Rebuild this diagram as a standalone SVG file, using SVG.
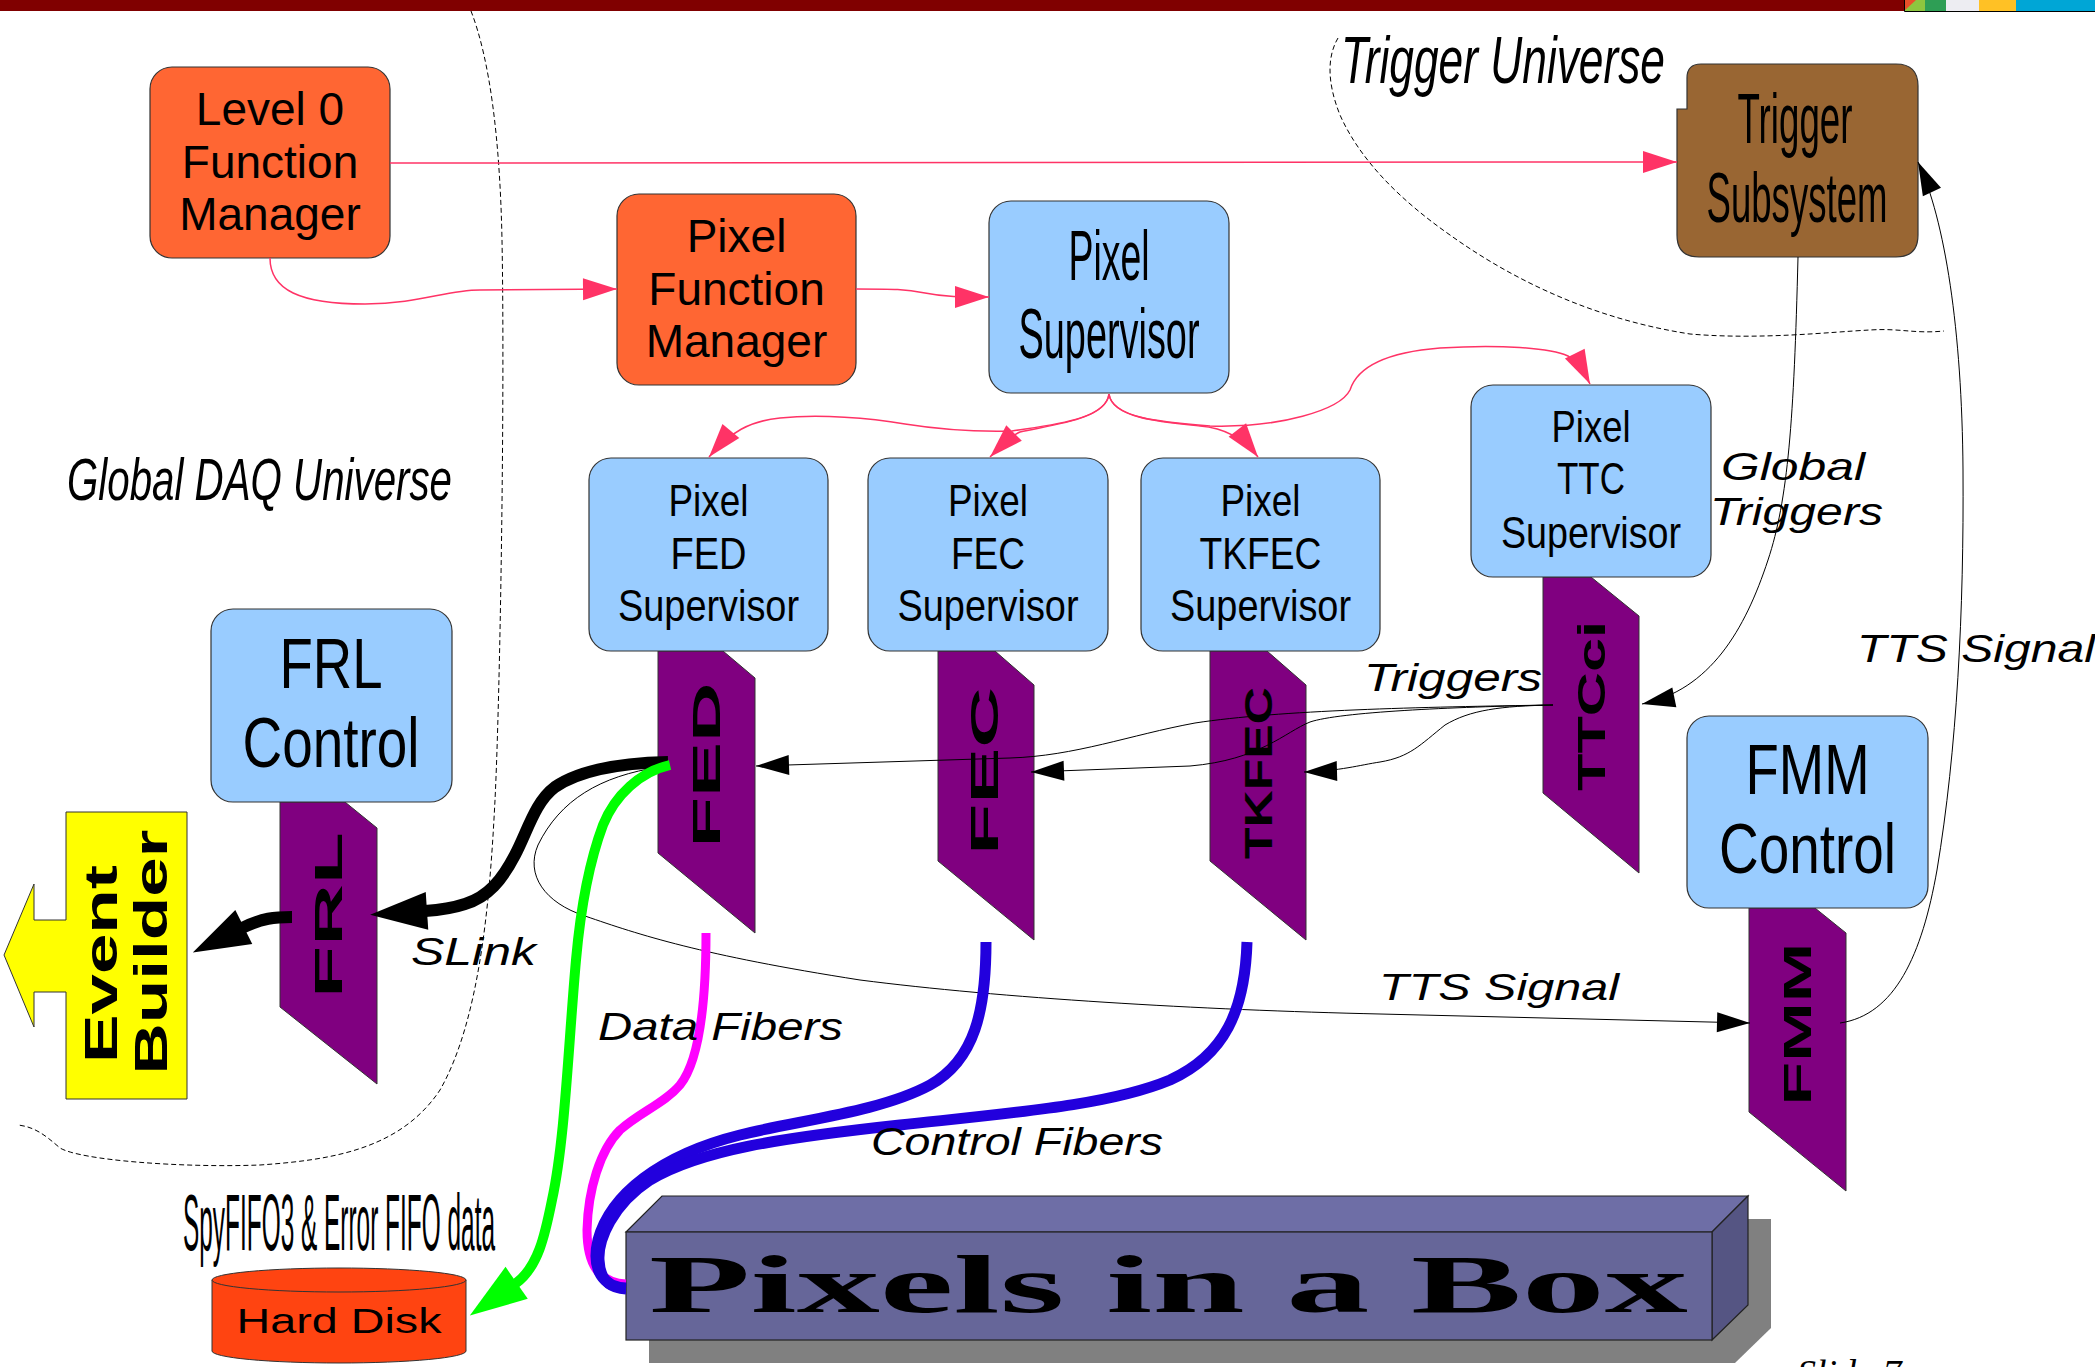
<svg xmlns="http://www.w3.org/2000/svg" width="2095" height="1367" viewBox="0 0 2095 1367">
  <defs>
    <style>
      text { font-family: "Liberation Sans", Arial, sans-serif; fill: #000; }
      text.serif { font-family: "Liberation Serif", "Times New Roman", serif; }
      .t46 { font-size: 46px; text-anchor: middle; }
      .t45 { font-size: 45px; text-anchor: middle; }
      .t70 { font-size: 70px; text-anchor: middle; }
      .card-t { font-size: 38px; font-weight: bold; text-anchor: middle; }
      .lbl { font-style: italic; }
      .orange { fill: #FF6633; stroke: #333; stroke-width: 1.2; }
      .blue { fill: #99CCFF; stroke: #333; stroke-width: 1.2; }
      .card { fill: #800080; stroke: #333; stroke-width: 1; }
      .dash { fill: none; stroke: #000; stroke-width: 1; stroke-dasharray: 5 3; }
      .pink { fill: none; stroke: #FF3366; stroke-width: 1.5; marker-end: url(#arrow-pink); }
      .thin { fill: none; stroke: #000; stroke-width: 1; marker-end: url(#arrow-black); }
      .fiber { fill: none; stroke-linecap: butt; }
    </style>
    <marker id="arrow-pink" markerUnits="userSpaceOnUse" markerWidth="34" markerHeight="22" refX="34" refY="11" orient="auto" overflow="visible">
      <path d="M0,0 L34,11 L0,22 Z" fill="#FF3366"/>
    </marker>
    <marker id="arrow-black" markerUnits="userSpaceOnUse" markerWidth="33" markerHeight="20" refX="33" refY="10" orient="auto" overflow="visible">
      <path d="M0,0 L33,10 L0,20 Z" fill="#000"/>
    </marker>
    <marker id="arrow-big-black" markerUnits="userSpaceOnUse" markerWidth="57" markerHeight="38" refX="2" refY="19" orient="auto" overflow="visible">
      <path d="M0,0 L57,19 L0,38 Z" fill="#000"/>
    </marker>
    <marker id="arrow-big-green" markerUnits="userSpaceOnUse" markerWidth="57" markerHeight="39" refX="2" refY="19.5" orient="auto" overflow="visible">
      <path d="M0,0 L57,19.5 L0,39 Z" fill="#00FF00"/>
    </marker>
  </defs>

  <rect width="2095" height="1367" fill="#FFFFFF"/>

  <!-- header strip -->
  <g id="header">
    <rect x="0" y="0" width="2095" height="11" fill="#800000"/>
    <rect x="1904" y="0" width="21" height="11" fill="#8DC63F"/>
    <polygon points="1904,0 1916,0 1904,11" fill="#E8502A"/>
    <rect x="1925" y="0" width="21" height="11" fill="#2E9E55"/>
    <rect x="1946" y="0" width="33" height="11" fill="#EDEDF2"/>
    <rect x="1979" y="0" width="37" height="11" fill="#FFC125"/>
    <rect x="2016" y="0" width="79" height="11" fill="#00A6D6"/>
    <path d="M1904.5,0 L1904.5,11.5 L2095,11.5" fill="none" stroke="#000" stroke-width="1"/>
  </g>

  <!-- domain boundaries -->
  <g id="boundaries">
    <path class="dash" d="M471,11 C490,60 500,140 502,240 C505,400 500,700 495,800 C490,900 480,1020 440,1090 C400,1150 330,1160 260,1165 C180,1168 80,1160 60,1148 C45,1135 35,1127 18,1125"/>
    <path class="dash" d="M1338,38 C1328,55 1326,80 1340,115 C1360,160 1400,200 1450,235 C1520,285 1600,320 1690,334 C1760,340 1830,332 1870,330 C1900,328 1915,334 1944,331"/>
    <text class="lbl" x="1341" y="83" font-size="66" textLength="324" lengthAdjust="spacingAndGlyphs">Trigger Universe</text>
    <text class="lbl" x="67" y="500" font-size="60" textLength="385" lengthAdjust="spacingAndGlyphs">Global DAQ Universe</text>
  </g>

  <!-- hardware cards -->
  <g id="card-fed">
    <polygon class="card" points="658,651 723,651 755,678 755,933 658,853"/>
    <text class="card-t" transform="translate(720,765) rotate(-90)" textLength="165" lengthAdjust="spacingAndGlyphs">FED</text>
  </g>
  <g id="card-fec">
    <polygon class="card" points="938,651 995,651 1034,685 1034,940 938,861"/>
    <text class="card-t" transform="translate(998,771) rotate(-90)" textLength="168" lengthAdjust="spacingAndGlyphs">FEC</text>
  </g>
  <g id="card-tkfec">
    <polygon class="card" points="1210,651 1267,651 1306,685 1306,940 1210,861"/>
    <text class="card-t" transform="translate(1272,773) rotate(-90)" textLength="172" lengthAdjust="spacingAndGlyphs">TKFEC</text>
  </g>
  <g id="card-ttcci">
    <polygon class="card" points="1543,577 1591,577 1639,616 1639,873 1543,793"/>
    <text class="card-t" transform="translate(1605,706) rotate(-90)" textLength="170" lengthAdjust="spacingAndGlyphs">TTCci</text>
  </g>
  <g id="card-frl">
    <polygon class="card" points="280,802 345,802 377,828 377,1084 280,1007"/>
    <text class="card-t" transform="translate(342,915) rotate(-90)" textLength="166" lengthAdjust="spacingAndGlyphs">FRL</text>
  </g>
  <g id="card-fmm">
    <polygon class="card" points="1749,908 1815,908 1846,933 1846,1191 1749,1112"/>
    <text class="card-t" transform="translate(1811,1024) rotate(-90)" textLength="163" lengthAdjust="spacingAndGlyphs">FMM</text>
  </g>

  <!-- software nodes -->
  <g id="level0-function-manager">
    <rect class="orange" x="150" y="67" width="240" height="191" rx="22"/>
    <text class="t46" x="270" y="125">Level 0</text>
    <text class="t46" x="270" y="178">Function</text>
    <text class="t46" x="270" y="230">Manager</text>
  </g>
  <g id="pixel-function-manager">
    <rect class="orange" x="617" y="194" width="239" height="191" rx="22"/>
    <text class="t46" x="736.5" y="252">Pixel</text>
    <text class="t46" x="736.5" y="305">Function</text>
    <text class="t46" x="736.5" y="357">Manager</text>
  </g>
  <g id="pixel-supervisor">
    <rect class="blue" x="989" y="201" width="240" height="192" rx="22"/>
    <text class="t70" x="1109" y="280" textLength="81" lengthAdjust="spacingAndGlyphs">Pixel</text>
    <text class="t70" x="1109" y="358" textLength="181" lengthAdjust="spacingAndGlyphs">Supervisor</text>
  </g>
  <g id="trigger-subsystem">
    <path d="M1701,64 L1896,64 Q1918,64 1918,86 L1918,235 Q1918,257 1896,257 L1699,257 Q1677,257 1677,235 L1677,109 L1687,109 L1687,78 Q1687,64 1701,64 Z" fill="#996633" stroke="#333" stroke-width="1.2"/>
    <text class="t70" x="1795" y="143" textLength="115" lengthAdjust="spacingAndGlyphs">Trigger</text>
    <text class="t70" x="1797" y="222" textLength="181" lengthAdjust="spacingAndGlyphs">Subsystem</text>
  </g>
  <g id="pixel-fed-supervisor">
    <rect class="blue" x="589" y="458" width="239" height="193" rx="22"/>
    <text class="t45" x="708.5" y="516" textLength="80" lengthAdjust="spacingAndGlyphs">Pixel</text>
    <text class="t45" x="708.5" y="569" textLength="76" lengthAdjust="spacingAndGlyphs">FED</text>
    <text class="t45" x="708.5" y="621" textLength="181" lengthAdjust="spacingAndGlyphs">Supervisor</text>
  </g>
  <g id="pixel-fec-supervisor">
    <rect class="blue" x="868" y="458" width="240" height="193" rx="22"/>
    <text class="t45" x="988" y="516" textLength="80" lengthAdjust="spacingAndGlyphs">Pixel</text>
    <text class="t45" x="988" y="569" textLength="74" lengthAdjust="spacingAndGlyphs">FEC</text>
    <text class="t45" x="988" y="621" textLength="181" lengthAdjust="spacingAndGlyphs">Supervisor</text>
  </g>
  <g id="pixel-tkfec-supervisor">
    <rect class="blue" x="1141" y="458" width="239" height="193" rx="22"/>
    <text class="t45" x="1260.5" y="516" textLength="80" lengthAdjust="spacingAndGlyphs">Pixel</text>
    <text class="t45" x="1260.5" y="569" textLength="122" lengthAdjust="spacingAndGlyphs">TKFEC</text>
    <text class="t45" x="1260.5" y="621" textLength="181" lengthAdjust="spacingAndGlyphs">Supervisor</text>
  </g>
  <g id="pixel-ttc-supervisor">
    <rect class="blue" x="1471" y="385" width="240" height="192" rx="22"/>
    <text class="t45" x="1591" y="442" textLength="79" lengthAdjust="spacingAndGlyphs">Pixel</text>
    <text class="t45" x="1591" y="494" textLength="68" lengthAdjust="spacingAndGlyphs">TTC</text>
    <text class="t45" x="1591" y="548" textLength="180" lengthAdjust="spacingAndGlyphs">Supervisor</text>
  </g>
  <g id="frl-control">
    <rect class="blue" x="211" y="609" width="241" height="193" rx="22"/>
    <text class="t70" x="331" y="688" textLength="103" lengthAdjust="spacingAndGlyphs">FRL</text>
    <text class="t70" x="331" y="767" textLength="177" lengthAdjust="spacingAndGlyphs">Control</text>
  </g>
  <g id="fmm-control">
    <rect class="blue" x="1687" y="716" width="241" height="192" rx="22"/>
    <text class="t70" x="1807.5" y="794" textLength="124" lengthAdjust="spacingAndGlyphs">FMM</text>
    <text class="t70" x="1807.5" y="873" textLength="177" lengthAdjust="spacingAndGlyphs">Control</text>
  </g>

  <!-- event builder (left-pointing block arrow) -->
  <g id="event-builder">
    <polygon points="66,812 187,812 187,1099 66,1099 66,992 34,992 34,1027 4,955 34,884 34,920 66,920" fill="#FFFF00" stroke="#333" stroke-width="1"/>
    <text transform="translate(117,964) rotate(-90)" font-size="47" font-weight="bold" text-anchor="middle" textLength="198" lengthAdjust="spacingAndGlyphs">Event</text>
    <text transform="translate(167,952) rotate(-90)" font-size="47" font-weight="bold" text-anchor="middle" textLength="245" lengthAdjust="spacingAndGlyphs">Builder</text>
  </g>

  <!-- hard disk -->
  <g id="hard-disk">
    <path d="M212,1280 L212,1351 A127,12 0 0 0 466,1351 L466,1280 Z" fill="#FF4411" stroke="#333" stroke-width="1"/>
    <ellipse cx="339" cy="1280" rx="127" ry="12" fill="#FF4411" stroke="#333" stroke-width="1"/>
    <text x="339" y="1333" font-size="35" text-anchor="middle" textLength="205" lengthAdjust="spacingAndGlyphs">Hard Disk</text>
    <text x="183" y="1250" font-size="80" textLength="312" lengthAdjust="spacingAndGlyphs">SpyFIFO3 &amp; Error FIFO data</text>
  </g>

  <!-- detector box -->
  <g id="pixels-in-a-box">
    <polygon points="649,1255 685,1219 1771,1219 1771,1328 1735,1363 649,1363" fill="#808080"/>
    <polygon points="626,1232 662,1196 1748,1196 1712,1232" fill="#6E6EA6" stroke="#222" stroke-width="1.2"/>
    <polygon points="1712,1232 1748,1196 1748,1305 1712,1340" fill="#555583" stroke="#222" stroke-width="1.2"/>
    <rect x="626" y="1232" width="1086" height="108" fill="#666699" stroke="#222" stroke-width="1.2"/>
    <text class="serif" x="649" y="1312" font-weight="bold" font-size="82" textLength="1039" lengthAdjust="spacingAndGlyphs">Pixels in a Box</text>
  </g>

  <!-- connectors -->
  <g id="connectors">
    <!-- run control (pink) -->
    <path class="pink" d="M390,163 L1677,162"/>
    <path class="pink" d="M270,258 C270,290 300,304 365,304 C420,304 445,290 480,290 L617,289"/>
    <path class="pink" d="M856,289 C895,289 905,289 925,293 C945,297 960,297 989,297"/>
    <path class="pink" d="M1109,394 C1106,420 1050,425 1012,431 C970,432 930,428 905,424 C870,418 820,414 780,418 C750,421 730,432 709,457"/>
    <path class="pink" d="M1109,394 C1106,420 1050,425 1020,432 C1010,436 1000,447 990,457"/>
    <path class="pink" d="M1109,394 C1112,418 1160,422 1200,426 C1225,428 1245,440 1258,457"/>
    <path class="pink" d="M1109,394 C1112,418 1160,422 1210,426 C1280,428 1340,410 1350,390 C1358,365 1390,352 1440,348 C1500,344 1550,348 1568,356 C1578,362 1584,372 1590,384"/>

    <!-- triggers and TTS (thin black) -->
    <path class="thin" d="M1798,257 C1794,420 1788,500 1768,560 C1745,630 1710,690 1642,704"/>
    <path class="thin" d="M1553,705 C1420,707 1280,710 1195,723 C1130,735 1075,756 1010,758 L756,766"/>
    <path class="thin" d="M1553,705 C1450,707 1340,712 1310,722 C1285,732 1260,760 1190,766 L1031,772"/>
    <path class="thin" d="M1553,705 C1500,706 1470,710 1445,725 C1420,745 1410,757 1380,762 C1360,765 1340,771 1304,772"/>
    <path class="thin" d="M660,767 C600,776 560,800 538,845 C525,875 545,903 585,916 C640,935 700,955 860,980 C1000,998 1200,1010 1380,1014 L1750,1023"/>
    <path class="thin" d="M1840,1023 C1895,1015 1922,955 1937,870 C1957,750 1964,610 1963,470 C1962,330 1945,220 1918,162"/>

    <!-- fibers -->
    <path class="fiber" stroke="#FF00FF" stroke-width="9" d="M706,933 C706,1000 700,1060 680,1085 C665,1103 640,1112 620,1130 C600,1150 588,1190 587,1230 C587,1265 600,1283 626,1284"/>
    <path class="fiber" stroke="#2200DD" stroke-width="11" d="M986,942 C986,1010 975,1060 930,1085 C880,1112 800,1120 740,1135 C660,1155 610,1195 598,1240 C591,1270 603,1287 626,1288"/>
    <path class="fiber" stroke="#2200DD" stroke-width="11" d="M1247,942 C1245,1010 1225,1055 1170,1080 C1110,1105 1020,1112 900,1125 C780,1138 700,1150 650,1180 C612,1205 598,1240 599,1260 C600,1278 607,1288 626,1289"/>

    <!-- data links (thick) -->
    <path class="fiber" stroke="#000" stroke-width="12" marker-end="url(#arrow-big-black)" d="M668,762 C620,763 580,770 555,787 C535,802 528,830 515,855 C502,880 488,897 465,904 C450,909 440,910 425,911"/>
    <path class="fiber" stroke="#000" stroke-width="12" marker-end="url(#arrow-big-black)" d="M292,917 C275,917 262,918 242,928"/>
    <path class="fiber" stroke="#00FF00" stroke-width="10" marker-end="url(#arrow-big-green)" d="M670,765 C640,772 615,795 603,825 C588,865 580,915 576,960 C568,1050 565,1140 552,1200 C545,1235 538,1268 515,1284"/>
  </g>

  <!-- connector labels -->
  <g id="labels">
    <text class="lbl" x="1721" y="480" font-size="38" textLength="144" lengthAdjust="spacingAndGlyphs">Global</text>
    <text class="lbl" x="1710" y="525" font-size="38" textLength="173" lengthAdjust="spacingAndGlyphs">Triggers</text>
    <text class="lbl" x="1857" y="662" font-size="39" textLength="238" lengthAdjust="spacingAndGlyphs">TTS Signal</text>
    <text class="lbl" x="1364" y="691" font-size="39" textLength="178" lengthAdjust="spacingAndGlyphs">Triggers</text>
    <text class="lbl" x="411" y="965" font-size="39" textLength="125" lengthAdjust="spacingAndGlyphs">SLink</text>
    <text class="lbl" x="598" y="1040" font-size="38" textLength="245" lengthAdjust="spacingAndGlyphs">Data Fibers</text>
    <text class="lbl" x="871" y="1155" font-size="39" textLength="292" lengthAdjust="spacingAndGlyphs">Control Fibers</text>
    <text class="lbl" x="1379" y="1000" font-size="36" textLength="240" lengthAdjust="spacingAndGlyphs">TTS Signal</text>
  </g>

  <text class="serif" x="1797" y="1386" font-style="italic" font-size="38">Slide 7</text>
</svg>
